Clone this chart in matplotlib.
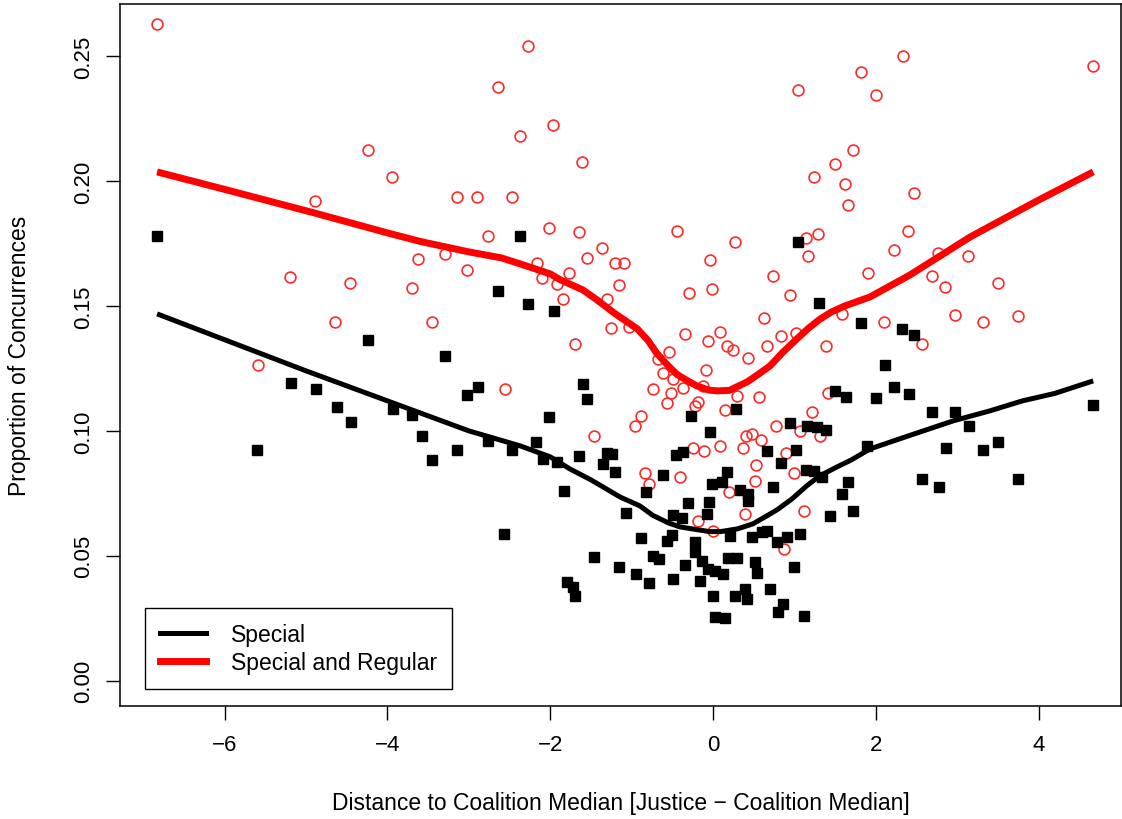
import matplotlib
matplotlib.use("Agg")
import matplotlib.pyplot as plt
from matplotlib.lines import Line2D

plt.rcParams["font.family"] = ["Liberation Sans", "DejaVu Sans"]

# Special and Regular (red open circles)
reg_x = [-6.83, -4.24, -3.94, -4.89, -5.20, -4.46, -3.70, -4.64, -5.59, -3.62,
         -2.27, -2.64, -1.97, -2.37, -1.61, -3.14, -2.90, -2.47, -2.76, -2.01,
         -1.65, -0.44, -1.36, -3.29, -3.02, -2.16, -1.55, -1.20, -1.09, -0.04,
         -1.77, -2.10, -1.92, -1.15, -0.29, -0.01, -1.84, -1.30, -2.56, -3.45,
         -1.25, -1.70, -1.03, -0.34, -0.06, 0.08, -0.54, -0.68, -0.09, -0.61,
         -0.49, -0.37, -0.74, -0.52, -0.57, -0.18, -0.22, -0.12, -0.88, -0.96,
         -1.46, -0.25, -0.11, 0.08, -0.84, -0.41, -0.79, 0.63, 0.83, 1.02,
         1.58, 0.66, 0.17, 0.25, 1.39, 0.43, 0.29, 0.57, 1.41, 0.15,
         1.22, 0.77, 1.07, 1.31, 0.48, 0.41, 0.59, 0.37, 0.90, 0.53,
         1.00, 0.52, 0.20, 0.39, 1.12, 0.87, -0.18, 0.00, 2.33, 1.82,
         1.04, 2.00, 4.67, 1.72, 1.50, 1.24, 1.62, 2.47, 1.66, 0.27,
         1.14, 1.29, 2.40, 1.17, 2.22, 0.74, 1.90, 2.76, 3.13, 2.69,
         2.85, 3.50, 0.95, 2.10, 2.97, 3.32, 3.75, 2.57]
reg_y = [0.2628, 0.2124, 0.2016, 0.1920, 0.1616, 0.1590, 0.1570, 0.1436, 0.1264, 0.1688,
         0.2540, 0.2376, 0.2224, 0.2180, 0.2076, 0.1936, 0.1936, 0.1936, 0.1780, 0.1812,
         0.1796, 0.1800, 0.1732, 0.1708, 0.1644, 0.1672, 0.1692, 0.1672, 0.1672, 0.1684,
         0.1632, 0.1612, 0.1588, 0.1584, 0.1552, 0.1568, 0.1528, 0.1528, 0.1168, 0.1436,
         0.1412, 0.1348, 0.1416, 0.1388, 0.1360, 0.1396, 0.1316, 0.1288, 0.1244, 0.1232,
         0.1208, 0.1172, 0.1168, 0.1152, 0.1112, 0.1116, 0.1100, 0.1180, 0.1060, 0.1020,
         0.0980, 0.0932, 0.0920, 0.0940, 0.0832, 0.0816, 0.0788, 0.1452, 0.1380, 0.1392,
         0.1468, 0.1340, 0.1340, 0.1324, 0.1340, 0.1292, 0.1140, 0.1136, 0.1152, 0.1084,
         0.1076, 0.1020, 0.1000, 0.0980, 0.0988, 0.0980, 0.0964, 0.0932, 0.0912, 0.0864,
         0.0832, 0.0800, 0.0756, 0.0668, 0.0680, 0.0528, 0.0640, 0.0600, 0.2500, 0.2436,
         0.2364, 0.2344, 0.2460, 0.2124, 0.2068, 0.2016, 0.1988, 0.1952, 0.1904, 0.1756,
         0.1772, 0.1788, 0.1800, 0.1700, 0.1724, 0.1620, 0.1632, 0.1712, 0.1700, 0.1620,
         0.1576, 0.1592, 0.1544, 0.1436, 0.1464, 0.1436, 0.1460, 0.1348]

# Special (black squares)
spec_x = [-6.83, -2.37, -2.64, -2.27, 1.04, 1.30, -4.24, -5.18, -4.88, -4.62,
          -4.45, -3.93, -3.70, -3.58, -5.60, -1.95, -3.29, -2.89, -3.02, -2.01,
          -2.76, -3.14, -2.17, -2.47, -3.45, -2.09, -1.92, -1.83, -1.60, -1.55,
          -0.27, -0.04, -1.65, -1.30, -1.24, -1.35, -1.20, -0.45, -0.37, -0.61,
          -0.82, -0.01, 1.82, 0.28, 1.50, 1.63, 0.95, 1.15, 1.28, 1.39,
          1.89, 0.66, 1.02, 0.83, 1.14, 1.24, 1.34, 1.66, 0.74, 0.17,
          0.11, 0.33, 0.43, 1.58, 2.32, 2.47, 2.11, 2.22, 2.41, 2.00,
          2.69, 2.97, 3.15, 4.67, 2.86, 3.32, 3.50, 2.57, 2.78, 3.75,
          -2.57, -1.79, -0.31, -0.05, -1.07, -0.49, -0.38, -0.07, -0.88, -0.57,
          -0.50, -0.22, -1.46, -0.74, -0.66, -1.15, -0.34, -0.95, -0.79, -0.49,
          -0.22, -0.14, -0.06, -0.16, 0.02, 0.00, 0.02, -1.72, -1.70, 0.43,
          1.44, 1.72, 0.21, 0.48, 0.60, 0.66, 0.79, 0.91, 1.07, 0.18,
          0.29, 0.52, 0.54, 1.00, 0.12, 0.70, 0.39, 0.27, 0.42, 0.86,
          0.80, 1.12, 0.15]
spec_y = [0.1780, 0.1780, 0.1560, 0.1508, 0.1756, 0.1512, 0.1364, 0.1192, 0.1168, 0.1096,
          0.1036, 0.1088, 0.1064, 0.0980, 0.0924, 0.1480, 0.1300, 0.1176, 0.1144, 0.1056,
          0.0960, 0.0924, 0.0956, 0.0924, 0.0884, 0.0888, 0.0876, 0.0760, 0.1188, 0.1128,
          0.1060, 0.0996, 0.0900, 0.0912, 0.0908, 0.0868, 0.0836, 0.0904, 0.0916, 0.0824,
          0.0756, 0.0788, 0.1432, 0.1088, 0.1160, 0.1136, 0.1032, 0.1020, 0.1016, 0.1004,
          0.0940, 0.0920, 0.0924, 0.0872, 0.0844, 0.0840, 0.0816, 0.0796, 0.0776, 0.0836,
          0.0796, 0.0764, 0.0748, 0.0748, 0.1408, 0.1384, 0.1264, 0.1176, 0.1148, 0.1132,
          0.1076, 0.1076, 0.1020, 0.1104, 0.0932, 0.0924, 0.0956, 0.0808, 0.0776, 0.0808,
          0.0588, 0.0396, 0.0712, 0.0716, 0.0672, 0.0664, 0.0652, 0.0668, 0.0572, 0.0560,
          0.0584, 0.0556, 0.0496, 0.0500, 0.0488, 0.0456, 0.0464, 0.0428, 0.0392, 0.0408,
          0.0516, 0.0480, 0.0448, 0.0400, 0.0440, 0.0340, 0.0256, 0.0376, 0.0340, 0.0720,
          0.0660, 0.0680, 0.0580, 0.0576, 0.0596, 0.0600, 0.0556, 0.0576, 0.0588, 0.0492,
          0.0492, 0.0476, 0.0432, 0.0456, 0.0428, 0.0368, 0.0368, 0.0340, 0.0328, 0.0308,
          0.0276, 0.0260, 0.0252]

# lowess curves
reg_fit_x = [-6.83, -6.00, -4.90, -4.00, -3.60, -3.00, -2.60, -2.37, -2.00, -1.88,
             -1.60, -1.43, -1.20, -0.93, -0.80, -0.69, -0.55, -0.44, -0.30, -0.20,
             -0.05, 0.05, 0.20, 0.42, 0.55, 0.70, 0.85, 1.03, 1.17, 1.31,
             1.45, 1.62, 1.93, 2.42, 3.16, 3.98, 4.67]
reg_fit_y = [0.2036, 0.1966, 0.1872, 0.1792, 0.1758, 0.1716, 0.1692, 0.1668, 0.1628, 0.1605,
             0.1564, 0.1525, 0.1468, 0.1408, 0.1362, 0.1310, 0.1260, 0.1225, 0.1198, 0.1180,
             0.1163, 0.1160, 0.1162, 0.1196, 0.1225, 0.1260, 0.1312, 0.1368, 0.1410, 0.1446,
             0.1475, 0.1500, 0.1536, 0.1624, 0.1776, 0.1920, 0.2036]
spec_fit_x = [-6.83, -5.00, -3.60, -3.00, -2.37, -2.00, -1.76, -1.50, -1.14, -0.90,
              -0.74, -0.55, -0.41, -0.20, -0.04, 0.09, 0.30, 0.49, 0.65, 0.79,
              0.97, 1.15, 1.31, 1.50, 1.70, 1.93, 2.40, 2.95, 3.40, 3.80,
              4.20, 4.67]
spec_fit_y = [0.1468, 0.1240, 0.1072, 0.1000, 0.0940, 0.0896, 0.0848, 0.0804, 0.0735, 0.0700,
              0.0662, 0.0632, 0.0616, 0.0605, 0.0597, 0.0597, 0.0608, 0.0628, 0.0658, 0.0685,
              0.0728, 0.0780, 0.0820, 0.0852, 0.0884, 0.0928, 0.0980, 0.1040, 0.1080, 0.1120,
              0.1150, 0.1200]

fig = plt.figure(figsize=(11.22, 8.2), dpi=100)
ax = fig.add_axes([0.107, 0.138, 0.892, 0.856])

ax.plot(reg_x, reg_y, linestyle="none", marker="o", markersize=7.8,
        markerfacecolor="none", markeredgecolor="#ff2a2a", markeredgewidth=1.2)
ax.plot(spec_x, spec_y, linestyle="none", marker="s", markersize=7.5,
        color="black")
ax.plot(spec_fit_x, spec_fit_y, color="black", linewidth=3.6,
        solid_capstyle="butt", solid_joinstyle="round")
ax.plot(reg_fit_x, reg_fit_y, color="red", linewidth=5.0,
        solid_capstyle="butt", solid_joinstyle="round")

ax.set_xlim(-7.285, 5.01)
ax.set_ylim(-0.01, 0.2708)
ax.set_xticks([-6, -4, -2, 0, 2, 4])
ax.set_xticklabels(["\u22126", "\u22124", "\u22122", "0", "2", "4"])
ax.set_yticks([0.0, 0.05, 0.10, 0.15, 0.20, 0.25])
ax.set_yticklabels(["0.00", "0.05", "0.10", "0.15", "0.20", "0.25"],
                   rotation=90, va="center")
ax.tick_params(axis="both", direction="out", length=10, width=1.0,
               labelsize=16, color="black")
ax.tick_params(axis="x", pad=10)
ax.tick_params(axis="y", pad=9)
for s in ax.spines.values():
    s.set_linewidth(1.1)

ax.set_xlabel("Distance to Coalition Median [Justice \u2212 Coalition Median]",
              fontsize=16.5, labelpad=26)
ax.set_ylabel("Proportion of Concurrences", fontsize=16.5, labelpad=30)

handles = [Line2D([], [], color="black", linewidth=3.6),
           Line2D([], [], color="red", linewidth=5.0)]
leg = ax.legend(handles, ["Special", "Special and Regular"], loc="lower left",
                bbox_to_anchor=(0.025, 0.024), borderaxespad=0, fontsize=16.5,
                fancybox=False, framealpha=1, edgecolor="black",
                handlelength=2.0, handletextpad=1.1, borderpad=0.65,
                labelspacing=0.22)
leg.get_frame().set_linewidth(1.0)

fig.savefig("out.png", dpi=100)
